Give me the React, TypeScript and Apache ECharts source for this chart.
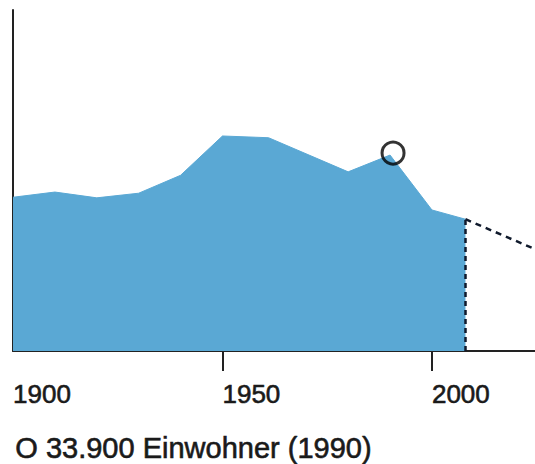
import React, { useEffect, useRef } from "react";
import * as echarts from "echarts";

const years = [1900, 1910, 1920, 1930, 1940, 1950, 1961, 1980, 1990, 2000, 2008];
const population = [26.6, 27.5, 26.5, 27.3, 30.4, 37.2, 36.9, 31.0, 33.9, 24.4, 22.8];
const projectionYears = [2008, 2025];
const projectionValues = [22.8, 17.5];
const highlightYear = 1990;
const highlightValue = 33.9;
const tickYears = [1950, 2000];
const labelYears = [1900, 1950, 2000];
const noteText = "O 33.900 Einwohner (1990)";

export default function App() {
  const ref = useRef<HTMLDivElement>(null);
  useEffect(() => {
    if (!ref.current) return;
    const chart = echarts.init(ref.current, null, { renderer: "svg" });
    const areaData = years.map((y, i) => [y, population[i]]);
    const projData = projectionYears.map((y, i) => [y, projectionValues[i]]);
    const lastYear = years[years.length - 1];
    const lastVal = population[population.length - 1];
    const dashColor = "#101a2c";
    chart.setOption({
      animation: false,
      grid: { left: 13, right: 0, top: 10, bottom: 113 },
      xAxis: {
        type: "value",
        min: 1900,
        max: 2024.6,
        interval: 50,
        axisLine: { show: true, lineStyle: { color: "#222", width: 2 } },
        axisTick: {
          show: true,
          customValues: tickYears,
          length: 20,
          lineStyle: { color: "#222", width: 2 },
        },
        axisLabel: {
          show: true,
          customValues: labelYears,
          align: "left",
          margin: 30,
          fontSize: 26,
          color: "#1a1a1a",
          textBorderColor: "#1a1a1a",
          textBorderWidth: 0.6,
          fontFamily: "Liberation Sans",
          formatter: (v: number) => String(v),
        },
        splitLine: { show: false },
      },
      yAxis: {
        type: "value",
        min: 0,
        max: 59,
        axisLine: { show: true, lineStyle: { color: "#222", width: 2 } },
        axisTick: { show: false },
        axisLabel: { show: false },
        splitLine: { show: false },
      },
      series: [
        {
          type: "line",
          data: areaData,
          symbol: "none",
          lineStyle: { width: 1, color: "#5aa8d4" },
          areaStyle: { color: "#5aa8d4", opacity: 1 },
          z: 1,
          markLine: {
            silent: true,
            symbol: "none",
            label: { show: false },
            lineStyle: { color: dashColor, type: [5, 4], width: 2.5 },
            data: [[{ coord: [lastYear, 0] }, { coord: [lastYear, lastVal] }]],
          },
        },
        {
          type: "line",
          data: projData,
          symbol: "none",
          clip: true,
          lineStyle: { color: dashColor, type: [6, 5], width: 2.5 },
          z: 2,
        },
        {
          type: "scatter",
          data: [[highlightYear, highlightValue]],
          symbol: "circle",
          symbolSize: 22,
          symbolOffset: [3, -2],
          itemStyle: { color: "rgba(0,0,0,0)", borderColor: "#000", borderWidth: 3 },
          z: 3,
        },
      ],
      graphic: [
        {
          type: "text",
          left: 15,
          top: 433,
          style: {
            text: noteText,
            fontSize: 29,
            fontFamily: "Liberation Sans",
            fill: "#1a1a1a",
            stroke: "#1a1a1a",
            lineWidth: 0.6,
          },
        },
      ],
    });
    return () => chart.dispose();
  }, []);
  return (
    <div
      ref={ref}
      style={{ position: "fixed", left: 0, top: 0, width: 535, height: 464, background: "#fff" }}
    />
  );
}
